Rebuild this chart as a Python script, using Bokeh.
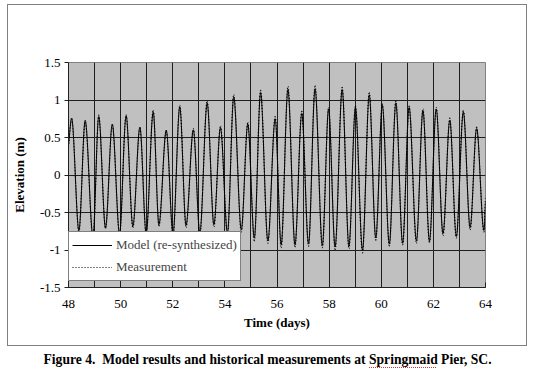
import numpy as np
from bokeh.plotting import figure
from bokeh.models import (FixedTicker, NumeralTickFormatter, Legend, LegendItem,
                          Title, ColumnDataSource)
from bokeh.embed import file_html
from bokeh.resources import INLINE

# ---- data (days, metres) ----
peak_days = [48.12, 48.64, 49.16, 49.68, 50.21, 50.74, 51.25, 51.75, 52.27, 52.79,
             53.32, 53.83, 54.34, 54.88, 55.37, 55.93, 56.42, 56.95, 57.46, 57.98,
             58.50, 59.01, 59.54, 60.04, 60.56, 61.07, 61.60, 62.11, 62.63, 63.15, 63.66]
trough_days = [48.40, 48.94, 49.42, 49.96, 50.47, 50.98, 51.47, 52.01, 52.51, 53.04,
               53.58, 54.10, 54.63, 55.13, 55.65, 56.16, 56.69, 57.21, 57.74, 58.23,
               58.76, 59.28, 59.79, 60.31, 60.82, 61.35, 61.85, 62.37, 62.88, 63.41, 63.94]
model_peaks = [0.76, 0.73, 0.78, 0.68, 0.79, 0.64, 0.84, 0.60, 0.91, 0.60,
               0.96, 0.63, 1.04, 0.68, 1.10, 0.75, 1.14, 0.82, 1.15, 0.88,
               1.14, 0.90, 1.07, 0.93, 0.96, 0.90, 0.86, 0.88, 0.73, 0.84, 0.62]
model_troughs = [-0.74, -0.82, -0.71, -0.78, -0.68, -0.78, -0.66, -0.78, -0.67, -0.77,
                 -0.66, -0.77, -0.73, -0.84, -0.88, -0.93, -0.93, -0.92, -0.94, -0.96,
                 -0.95, -1.00, -0.84, -0.92, -0.91, -0.88, -0.88, -0.78, -0.82, -0.70, -0.74]
meas_peaks = [0.74, 0.70, 0.80, 0.66, 0.80, 0.62, 0.86, 0.58, 0.93, 0.62,
              0.98, 0.65, 1.07, 0.70, 1.13, 0.78, 1.18, 0.85, 1.19, 0.90,
              1.17, 0.92, 1.10, 0.95, 0.99, 0.92, 0.88, 0.90, 0.76, 0.86, 0.64]
meas_troughs = [-0.76, -0.85, -0.70, -0.80, -0.70, -0.80, -0.68, -0.82, -0.70, -0.80,
                -0.69, -0.80, -0.76, -0.88, -0.91, -0.97, -0.96, -0.95, -0.97, -1.00,
                -0.98, -1.04, -0.87, -0.95, -0.93, -0.91, -0.90, -0.81, -0.84, -0.73, -0.76]
model_start, model_end = 0.40, -0.35
meas_start, meas_end = 0.38, -0.30
x_start, x_end = 48, 64
x_ticks = list(range(48, 65))
x_tick_labels = {d: (str(d) if d % 2 == 0 else "") for d in x_ticks}
y_ticks = [-1.5, -1.0, -0.5, 0.0, 0.5, 1.0, 1.5]

SERIF = "Liberation Serif"


def extrema_path(start, peaks, troughs, end):
    t, v = [x_start], [start]
    for pdy, pv, tdy, tv in zip(peak_days, peaks, trough_days, troughs):
        t += [pdy, tdy]
        v += [pv, tv]
    t.append(x_end)
    v.append(end)
    return np.array(t, dtype=float), np.array(v, dtype=float)


def bezier_source(t, v):
    x0, x1 = t[:-1], t[1:]
    y0, y1 = v[:-1], v[1:]
    dx = x1 - x0
    cx0, cx1 = x0 + dx / 3, x1 - dx / 3
    cy0, cy1 = y0.copy(), y1.copy()
    cy0[0] = y0[0] + (y1[0] - y0[0]) / 3
    cy1[-1] = y1[-1] - (y1[-1] - y0[-1]) / 3
    return ColumnDataSource(dict(x0=x0, y0=y0, x1=x1, y1=y1,
                                 cx0=cx0, cy0=cy0, cx1=cx1, cy1=cy1))


# the outer chart frame (and the spell-check squiggle under "Springmaid")
# are painted behind the transparent canvas border
g = "linear-gradient(#808080,#808080)"
squiggle = "repeating-linear-gradient(90deg, #e03030 0 1px, transparent 1px 2px)"
frame_css = (f"{squiggle} 369px 367px / 67px 1px no-repeat, "
             f"{g} 7px 4px / 520px 1px no-repeat, "
             f"{g} 7px 345px / 520px 1px no-repeat, "
             f"{g} 7px 4px / 1px 342px no-repeat, "
             f"{g} 526px 4px / 1px 342px no-repeat, white")

p = figure(frame_width=417, frame_height=225, x_range=(x_start, x_end), y_range=(-1.5, 1.5),
           output_backend="svg", toolbar_location=None,
           min_border_left=68, min_border_right=45, min_border_top=62, min_border_bottom=20,
           background_fill_color="#c0c0c0", border_fill_color="white",
           border_fill_alpha=0, styles={"background": frame_css})

p.outline_line_color = "#808080"
p.outline_line_width = 1

# axes
p.xaxis.ticker = FixedTicker(ticks=x_ticks, minor_ticks=[])
p.xaxis.major_label_overrides = x_tick_labels
p.yaxis.ticker = FixedTicker(ticks=y_ticks, minor_ticks=[])
p.yaxis.formatter = NumeralTickFormatter(format="0.[0]")
for ax in (p.xaxis[0], p.yaxis[0]):
    ax.axis_line_color = "#202020"
    ax.major_tick_line_color = "#202020"
    ax.minor_tick_line_color = None
    ax.major_label_text_font = SERIF
    ax.major_label_text_font_size = "13px"
    ax.major_label_text_color = "black"
    ax.axis_label_text_font = SERIF
    ax.axis_label_text_font_size = "13px"
    ax.axis_label_text_font_style = "bold"
    ax.axis_label_text_color = "black"
p.xaxis.major_tick_in = 5
p.xaxis.major_tick_out = 0
p.xaxis.major_label_standoff = 12
p.xaxis.axis_label = "Time (days)"
p.xaxis.axis_label_standoff = 4
p.yaxis.major_tick_in = 0
p.yaxis.major_tick_out = 4
p.yaxis.major_label_standoff = 4
p.yaxis.axis_label = "Elevation (m)"
p.yaxis.axis_label_standoff = 10

p.xgrid.grid_line_color = "#1e1e1e"
p.ygrid.grid_line_color = "#1e1e1e"
p.xgrid.grid_line_width = 1
p.ygrid.grid_line_width = 1

# series
mt, mv = extrema_path(model_start, model_peaks, model_troughs, model_end)
st, sv = extrema_path(meas_start, meas_peaks, meas_troughs, meas_end)
model_r = p.bezier(x0="x0", y0="y0", x1="x1", y1="y1", cx0="cx0", cy0="cy0",
                   cx1="cx1", cy1="cy1", source=bezier_source(mt, mv),
                   line_color="black", line_width=1)
meas_r = p.bezier(x0="x0", y0="y0", x1="x1", y1="y1", cx0="cx0", cy0="cy0",
                  cx1="cx1", cy1="cy1", source=bezier_source(st, sv),
                  line_color="black", line_width=1.2, line_dash="1 2")

legend = Legend(items=[LegendItem(label="Model (re-synthesized)", renderers=[model_r]),
                       LegendItem(label="Measurement", renderers=[meas_r])],
                location=(0, 6), margin=0, padding=3, spacing=2,
                glyph_width=40, glyph_height=20, label_height=20, label_standoff=4,
                label_text_font=SERIF, label_text_font_size="13px",
                border_line_color="black", border_line_width=1,
                background_fill_color="white", background_fill_alpha=1)
p.add_layout(legend)

# spacer between the x axis and the caption (the caption sits below the chart frame)
spacer = Title(text=" ", text_font_size="1px", standoff=12)
p.add_layout(spacer, "below")
caption = Title(text="Figure 4.\u00a0 Model results and historical measurements at Springmaid Pier, SC.",
                align="left", offset=-25, text_font=SERIF, text_font_size="13.6px",
                text_font_style="bold", text_color="black", standoff=4)
p.add_layout(caption, "below")

open("out.html", "w").write(file_html(p, INLINE))
